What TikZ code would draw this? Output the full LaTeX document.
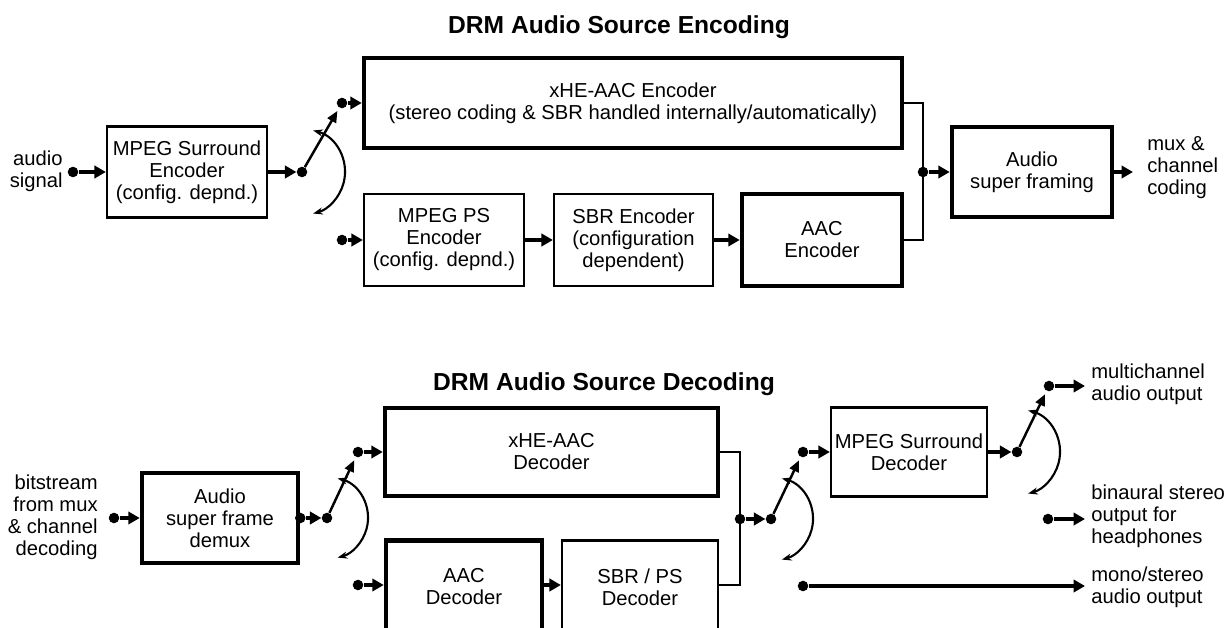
\documentclass[tikz,border=0pt]{standalone}
\usepackage{fontspec}
\setmainfont{Liberation Sans}
\usetikzlibrary{calc, arrows.meta}

\begin{document}
\begin{tikzpicture}[x=0.02cm,y=-0.02cm,
        font=\fontsize{11.5}{12.5}\selectfont,
        blk/.style={draw,line width=1.3pt,inner sep=2pt,align=center},
        blkb/.style={blk,line width=2.6pt},
        dot/.style={circle,fill,inner sep=0pt,minimum size=6pt},
        lbl/.style={inner sep=0pt},
        sig/.style={line width=1.8pt,-{Triangle[length=6.5pt,width=7pt]}},
        arm/.style={line width=1.4pt,-{Triangle[length=6.5pt,width=5.5pt]},shorten >=2pt},
        swing/.style={line width=1.2pt,{Stealth[length=5.5pt,width=4pt]}-{Stealth[length=5.5pt,width=4pt]}},
        wire/.style={line width=1.3pt}]
    \useasboundingbox (0,0) rectangle (1224,628);

    % encoding
    \node[font=\bfseries\fontsize{14}{16}\selectfont] (enctitle) at (619,27) {DRM Audio Source Encoding};
    \node[lbl,anchor=east,align=right] (audiotxt) at (63,171) {audio\\signal};
    \node[dot] (in1) at (73,172) {};
    \node[blk,minimum width=3.2cm,minimum height=1.82cm] (msenc) at (187,172) {MPEG Surround\\Encoder\\(config. depnd.)};
    \node[dot] (sw1) at (302,172) {};
    \node[dot] (c1a) at (342,103) {};
    \node[dot] (c1b) at (342,240) {};
    \node[blkb,minimum width=10.76cm,minimum height=1.8cm] (xheenc) at (633,103) {xHE-AAC Encoder\\(stereo coding \& SBR handled internally/automatically)};
    \node[blk,minimum width=3.2cm,minimum height=1.84cm] (psenc) at (444,240) {MPEG PS\\Encoder\\(config. depnd.)};
    \node[blk,minimum width=3.18cm,minimum height=1.84cm] (sbrenc) at (633.5,240) {SBR Encoder\\(configuration\\dependent)};
    \node[blkb,minimum width=3.2cm,minimum height=1.84cm] (aacenc) at (822,240) {AAC\\Encoder};
    \node[dot] (join1) at (923,172) {};
    \node[blkb,minimum width=3.2cm,minimum height=1.8cm] (frame) at (1032,172) {Audio\\super framing};
    \coordinate (out1) at (1133,172);
    \node[lbl,anchor=west,align=left] (muxtxt) at (1147,168) {mux \&\\channel\\coding};

    \draw[sig] (in1) -- (msenc);
    \draw[sig] (msenc) -- (sw1);
    \draw[sig] (c1a) -- (xheenc);
    \draw[sig] (c1b) -- (psenc);
    \draw[sig] (psenc) -- (sbrenc);
    \draw[sig] (sbrenc) -- (aacenc);
    \draw[wire] (xheenc.east) -| (join1.center) |- (aacenc.east);
    \draw[sig] (join1) -- (frame);
    \draw[sig] (frame) -- (out1);

    % decoding
    \node[font=\bfseries\fontsize{14}{16}\selectfont] (dectitle) at (604,384) {DRM Audio Source Decoding};
    \node[lbl,anchor=east,align=right] (bitstxt) at (98,517) {bitstream\\from mux\\\& channel\\decoding};
    \node[dot] (in2) at (114,518) {};
    \node[blkb,minimum width=3.12cm,minimum height=1.8cm] (demux) at (220,518) {Audio\\super frame\\demux};
    \node[dot] (dmx) at (demux.east) {};
    \node[dot] (sw2) at (327,518) {};
    \node[dot] (c2a) at (358,452) {};
    \node[dot] (c2b) at (358,585) {};
    \node[blkb,minimum width=6.66cm,minimum height=1.76cm] (xhedec) at (551.5,452) {xHE-AAC\\Decoder};
    \node[blkb,minimum width=3.12cm,minimum height=1.86cm] (aacdec) at (464,587) {AAC\\Decoder};
    \node[blk,minimum width=3.12cm,minimum height=1.86cm] (sbrdec) at (640,587) {SBR / PS\\Decoder};
    \node[dot] (join2) at (740,519) {};
    \node[dot] (sw3) at (771,519) {};
    \node[dot] (c3a) at (803,452) {};
    \node[dot] (c3b) at (803,586) {};
    \node[blk,minimum width=3.12cm,minimum height=1.78cm] (msdec) at (909,452) {MPEG Surround\\Decoder};
    \node[dot] (sw4) at (1017,452) {};
    \node[dot] (c4a) at (1049,386) {};
    \node[dot] (c4b) at (1048,519) {};
    \coordinate (o1) at (1085,386);
    \coordinate (o2) at (1085,519);
    \coordinate (o3) at (1085,586);
    \node[lbl,anchor=west,align=left] (multitxt) at (1091,384) {multichannel\\audio output};
    \node[lbl,anchor=west,align=left] (binatxt) at (1091,516) {binaural stereo\\output for\\headphones};
    \node[lbl,anchor=west,align=left] (monotxt) at (1091,587) {mono/stereo\\audio output};

    \draw[sig] (in2) -- (demux);
    \draw[sig] (dmx) -- (sw2);
    \draw[sig] (c2a) -- (xhedec);
    \draw[sig] (c2b) -- (c2b -| aacdec.west);
    \draw[sig] (aacdec.east |- c2b) -- (sbrdec.west |- c2b);
    \draw[wire] (xhedec.east) -| (join2.center) |- (sbrdec.east |- c2b);
    \draw[sig] (join2) -- (sw3);
    \draw[sig] (c3a) -- (msdec);
    \draw[sig] (msdec) -- (sw4);
    \draw[sig] (c4a) -- (o1);
    \draw[sig] (c4b) -- (o2);
    \draw[sig] (c3b) -- (o3);

    % switches
    \foreach \s/\c/\r in {sw1/c1a/43, sw2/c2a/41, sw3/c3a/42, sw4/c4a/43}{
        \draw[arm] (\s) -- (\c);
        \draw[swing] (\s) ++(-75:\r) arc[start angle=-75,end angle=75,radius=\r];
    }
\end{tikzpicture}
\end{document}
